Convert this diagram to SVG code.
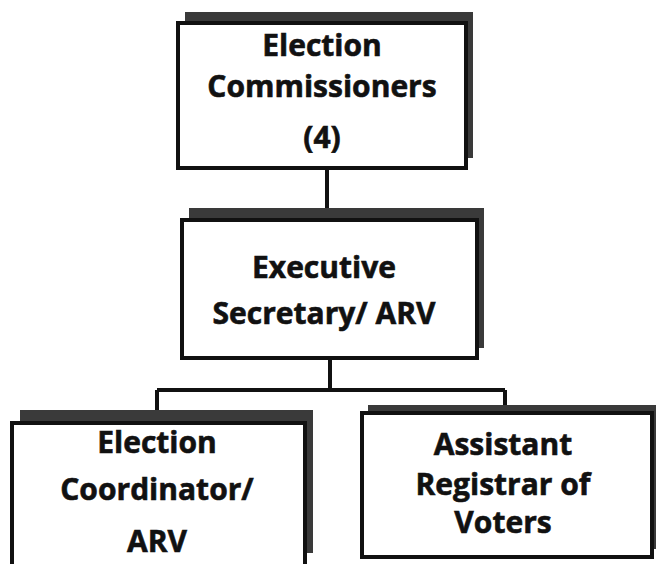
<svg xmlns="http://www.w3.org/2000/svg" width="656" height="564" viewBox="0 0 656 564">
<style>
.shadow{fill:#3a3a3a;stroke:none}
.box{fill:#ffffff;stroke:#111;stroke-width:4}
.lbl{font-family:"Open Sans","Liberation Sans",sans-serif;font-weight:bold;font-size:30px;fill:#111;text-anchor:middle;stroke:#111;stroke-width:0.6}
.conn{fill:none;stroke:#111;stroke-width:4}
</style>
<rect width="656" height="564" fill="#ffffff"/>
<g id="connectors">
<path class="conn" d="M327 168 V220"/>
<path class="conn" d="M330 358 V390 M157 390 H505 M157 390 V412 M505 390 V406"/>
</g>
<g id="n-commissioners">
<rect class="shadow" x="185" y="12" width="288" height="146"/>
<rect class="box" x="178" y="23" width="288" height="145"/>
<text class="lbl" x="322" y="56">Election</text>
<text class="lbl" x="322" y="97">Commissioners</text>
<text class="lbl" x="322" y="148">(4)</text>
</g>
<g id="n-executive">
<rect class="shadow" x="189" y="208" width="295" height="140"/>
<rect class="box" x="182" y="220" width="295" height="138"/>
<text class="lbl" x="324" y="278">Executive</text>
<text class="lbl" x="324" y="324">Secretary/ ARV</text>
</g>
<g id="n-coordinator">
<rect class="shadow" x="20" y="410" width="293" height="143"/>
<rect class="box" x="12" y="423" width="293" height="150"/>
<text class="lbl" x="157" y="453">Election</text>
<text class="lbl" x="157" y="500">Coordinator/</text>
<text class="lbl" x="157" y="552">ARV</text>
</g>
<g id="n-assistant">
<rect class="shadow" x="368" y="405" width="290" height="144"/>
<rect class="box" x="362" y="413" width="290" height="144"/>
<text class="lbl" x="503" y="455">Assistant</text>
<text class="lbl" x="503" y="495">Registrar of</text>
<text class="lbl" x="503" y="533">Voters</text>
</g>
</svg>
